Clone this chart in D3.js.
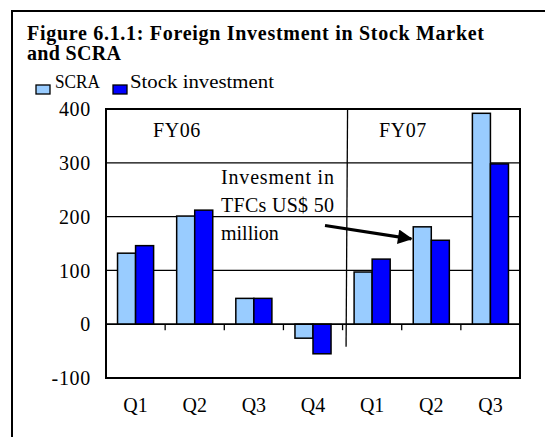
<!DOCTYPE html>
<html>
<head>
<meta charset="utf-8">
<script src="https://cdn.jsdelivr.net/npm/d3@7/dist/d3.min.js"></script>
<style>
  html, body { margin: 0; padding: 0; background: #fff; }
  svg { display: block; }
  text { font-family: "Liberation Serif", "Times New Roman", serif; fill: #000; }
</style>
</head>
<body>
<svg id="chart" width="545" height="437"></svg>
<script>
// Quarterly foreign inflows (US$ million)
const categories = ["Q1", "Q2", "Q3", "Q4", "Q1", "Q2", "Q3"];
const scra = [132, 201, 48, -26, 97, 181, 392];
const stock = [146, 212, 48, -55, 121, 156, 298];
const seriesNames = ["SCRA", "Stock investment"];
const seriesColors = ["#99ccff", "#0000ff"];
const yTicks = [-100, 0, 100, 200, 300, 400];
const fiscalYears = ["FY06", "FY07"];
const noteLines = ["Invesment in", "TFCs US$ 50", "million"];

const svg = d3.select("#chart");

// outer figure frame (runs off the right and bottom edges)
svg.append("rect")
  .attr("x", 12).attr("y", 11).attr("width", 600).attr("height", 500)
  .attr("fill", "none").attr("stroke", "#000").attr("stroke-width", 2);

// title
svg.append("text").attr("x", 27).attr("y", 39.5)
  .attr("font-size", 20).attr("font-weight", "bold")
  .attr("textLength", 457).attr("lengthAdjust", "spacing")
  .text("Figure 6.1.1: Foreign Investment in Stock Market");
svg.append("text").attr("x", 27).attr("y", 59.5)
  .attr("font-size", 20).attr("font-weight", "bold")
  .attr("textLength", 94).attr("lengthAdjust", "spacing")
  .text("and SCRA");

// legend
const legend = [
  { name: seriesNames[0], color: seriesColors[0], sx: 36, tx: 55, tw: 45 },
  { name: seriesNames[1], color: seriesColors[1], sx: 113, tx: 130, tw: 144 }
];
legend.forEach(d => {
  svg.append("rect").attr("x", d.sx).attr("y", 85).attr("width", 14).attr("height", 9)
    .attr("fill", d.color).attr("stroke", "#000").attr("stroke-width", 1.3);
  svg.append("text").attr("x", d.tx).attr("y", 87.5).attr("font-size", 19)
    .attr("textLength", d.tw).attr("lengthAdjust", "spacingAndGlyphs")
    .text(d.name);
});

// plot area
const plotLeft = 106, plotRight = 520, plotTop = 109, plotBottom = 378;
const x = d3.scaleBand().domain(d3.range(categories.length)).range([plotLeft, plotRight]).padding(0);
const y = d3.scaleLinear().domain([-100, 400]).range([plotBottom, plotTop]);
const bw = x.bandwidth();
const x1 = d3.scaleBand().domain([0, 1]).range([bw * 0.195, bw * 0.805]).padding(0);

// grid lines
svg.append("g").selectAll("line").data(yTicks.filter(v => v > -100 && v < 400)).join("line")
  .attr("x1", plotLeft).attr("x2", plotRight)
  .attr("y1", d => y(d)).attr("y2", d => y(d))
  .attr("stroke", "#000").attr("stroke-width", 1.2);

// fiscal year divider
svg.append("line")
  .attr("x1", x(4) + 5).attr("x2", x(4) + 3.5)
  .attr("y1", y(400)).attr("y2", y(-42))
  .attr("stroke", "#000").attr("stroke-width", 1.3);

// bars
const rows = categories.map((c, i) => [scra[i], stock[i]]);
const groups = svg.append("g").selectAll("g").data(rows).join("g")
  .attr("transform", (d, i) => `translate(${x(i)},0)`);
groups.selectAll("rect").data(d => d.map((v, k) => ({ v, k }))).join("rect")
  .attr("x", d => x1(d.k))
  .attr("width", x1.bandwidth())
  .attr("y", d => y(Math.max(0, d.v)))
  .attr("height", d => Math.abs(y(d.v) - y(0)))
  .attr("fill", d => seriesColors[d.k])
  .attr("stroke", "#000").attr("stroke-width", 1.5);

// zero line with category separators
svg.append("line").attr("x1", plotLeft).attr("x2", plotRight).attr("y1", y(0)).attr("y2", y(0))
  .attr("stroke", "#000").attr("stroke-width", 1.6);
svg.append("g").selectAll("line").data(d3.range(1, categories.length)).join("line")
  .attr("x1", d => x(d)).attr("x2", d => x(d))
  .attr("y1", y(0)).attr("y2", y(0) + 6)
  .attr("stroke", "#000").attr("stroke-width", 1.3);

// plot frame
svg.append("rect").attr("x", plotLeft).attr("y", plotTop)
  .attr("width", plotRight - plotLeft).attr("height", plotBottom - plotTop)
  .attr("fill", "none").attr("stroke", "#000").attr("stroke-width", 2);

// y axis labels
const yAxis = svg.append("g").attr("transform", `translate(${plotLeft},0)`)
  .call(d3.axisLeft(y).tickValues(yTicks).tickSize(0).tickPadding(15).tickFormat(d => String(d)));
yAxis.select(".domain").remove();
yAxis.selectAll("text").attr("font-family", "Liberation Serif, serif").attr("font-size", 20)
  .attr("letter-spacing", 0.7).attr("dy", "0.33em");

// category labels
const xAxis = svg.append("g").attr("transform", `translate(0,${plotBottom})`)
  .call(d3.axisBottom(x).tickSize(0).tickPadding(20).tickFormat(i => categories[i]));
xAxis.select(".domain").remove();
xAxis.selectAll("text").attr("font-family", "Liberation Serif, serif").attr("font-size", 20)
  .attr("dy", "0.71em");

// fiscal year labels
svg.append("g").selectAll("text").data(fiscalYears).join("text")
  .attr("x", (d, i) => i === 0 ? x(1) + bw * 0.2 : x(5) + bw * 0.02)
  .attr("y", 137).attr("font-size", 20).attr("text-anchor", "middle")
  .attr("letter-spacing", 0.6)
  .text(d => d);

// annotation
noteLines.forEach((t, i) => {
  svg.append("text").attr("x", 221).attr("y", 183.5 + i * 28).attr("font-size", 20)
    .attr("textLength", i < 2 ? 113 : null).attr("lengthAdjust", "spacing")
    .text(t);
});
svg.append("defs").append("marker").attr("id", "head")
  .attr("viewBox", "0 0 10 10").attr("refX", 9).attr("refY", 5)
  .attr("markerWidth", 5).attr("markerHeight", 4.6).attr("orient", "auto")
  .append("path").attr("d", "M0,0 L10,5 L0,10 Z").attr("fill", "#000");
svg.append("line")
  .attr("x1", 325).attr("y1", 225.5)
  .attr("x2", x(5) + x1(0) - 2).attr("y2", y(181) + 12)
  .attr("stroke", "#000").attr("stroke-width", 3.2).attr("marker-end", "url(#head)");
</script>
</body>
</html>
